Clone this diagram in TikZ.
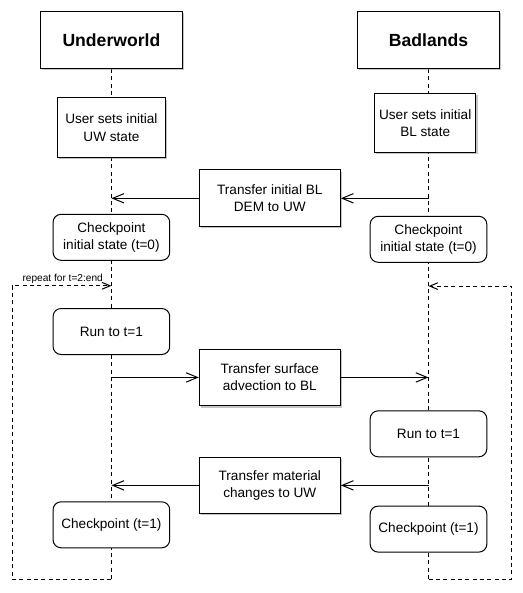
\documentclass[tikz,border=0pt]{standalone}
\usepackage{fontspec}
\setmainfont{Liberation Sans}
\usetikzlibrary{arrows.meta,shadows}
\pgfdeclarelayer{background}
\pgfsetlayers{background,main}
\tikzstyle{actor}=[draw, fill=white, line width=0.75pt, minimum width=106.5pt,
  minimum height=42.5pt, font=\fontsize{13.2}{16}\selectfont\bfseries,
  drop shadow={shadow xshift=1.3pt, shadow yshift=-1.3pt, fill=black!45}]
\tikzstyle{userbox}=[draw, fill=white, line width=0.75pt, minimum height=44.5pt,
  align=center, inner sep=2pt, font=\fontsize{10.2}{13}\selectfont,
  drop shadow={shadow xshift=1.3pt, shadow yshift=-1.3pt, fill=black!45}]
\tikzstyle{transfer} = [userbox, minimum width=105.75pt, minimum height=42.5pt]
\tikzstyle{stepbox}=[draw, fill=white, line width=0.75pt, rounded corners=6pt,
  minimum width=87.5pt, minimum height=34.5pt, align=center, inner sep=2pt,
  font=\fontsize{10.2}{13}\selectfont]
\tikzstyle{texto} = [inner sep=0pt, font=\fontsize{7.6}{9}\selectfont]
\tikzstyle{lifeline} = [draw, line width=0.75pt, dash pattern=on 3pt off 2.5pt]
\tikzstyle{line} = [draw, line width=0.75pt, -{Straight Barb[length=8.5pt,width=7pt]}]
\tikzstyle{loopline} = [lifeline, -{Straight Barb[length=6pt,width=5pt]}]

\begin{document}
\begin{tikzpicture}[x=0.75pt,y=0.75pt]
  \useasboundingbox (0,0) rectangle (522,-593);

  % Draw diagram elements
  \path (111.4,-40) node (uw) [actor] {Underworld};
  \path (428.5,-40) node (bl) [actor] {Badlands};

  \path (uw.south)+(0.0,-58.7) node (uwinit) [userbox, minimum width=81pt]
    {User sets initial\\ UW state};
  \path (bl.south)+(-3.3,-54.2) node (blinit) [userbox, minimum width=76pt]
    {User sets initial\\ BL state};

  \path (269.8,-198.3) node (t1) [transfer] {Transfer initial BL\\ DEM to UW};

  \path (uwinit.south)+(0.0,-79.6) node (uwcp0) [stepbox] {Checkpoint\\ initial state (t=0)};
  \path (blinit.south)+(3.3,-86.1) node (blcp0) [stepbox] {Checkpoint\\ initial state (t=0)};

  \path (uwcp0.south)+(0.0,-70.7) node (uwrun) [stepbox] {Run to t=1};
  \path (t1.south)+(0.0,-150.3) node (t2) [transfer] {Transfer surface\\ advection to BL};
  \path (blcp0.south)+(0.0,-171.0) node (blrun) [stepbox] {Run to t=1};
  \path (t2.south)+(0.0,-79.1) node (t3) [transfer] {Transfer material\\ changes to UW};

  \path (uwrun.south)+(0.0,-169.8) node (uwcp1) [stepbox] {Checkpoint (t=1)};
  \path (blrun.south)+(0.0,-71.8) node (blcp1) [stepbox] {Checkpoint (t=1)};

  % Lifeline ends and loop points
  \path (uw.south)+(0.0,-510.2) coordinate (uwend);
  \path (bl.south)+(0.0,-510.2) coordinate (blend);
  \path (uwcp0.south)+(0.0,-25.0) coordinate (uwrep);
  \path (blcp0.south)+(0.0,-23.3) coordinate (blrep);
  \path (uwrep)+(-48.7,6.6) node (replabel) [texto] {repeat for t=2:end};

  % Draw lifelines
  \begin{pgfonlayer}{background}
    \path [lifeline] (uw.south) -- (uwend);
    \path [lifeline] (bl.south) -- (blend);
  \end{pgfonlayer}

  % Draw arrows between elements
  \path [line] (t1.east -| bl.south) -- (t1.east);
  \path [line] (t1.west) -- (t1.west -| uw.south);

  \path [line] (t2.west -| uw.south) -- (t2.west);
  \path [line] (t2.east) -- (t2.east -| bl.south);

  \path [line] (t3.east -| bl.south) -- (t3.east);
  \path [line] (t3.west) -- (t3.west -| uw.south);

  % Repeat loops
  \path [loopline] (uwend) -- +(-99.4,0) |- (uwrep);
  \path [loopline] (blend) -- +(83.3,0) |- (blrep);
\end{tikzpicture}
\end{document}
